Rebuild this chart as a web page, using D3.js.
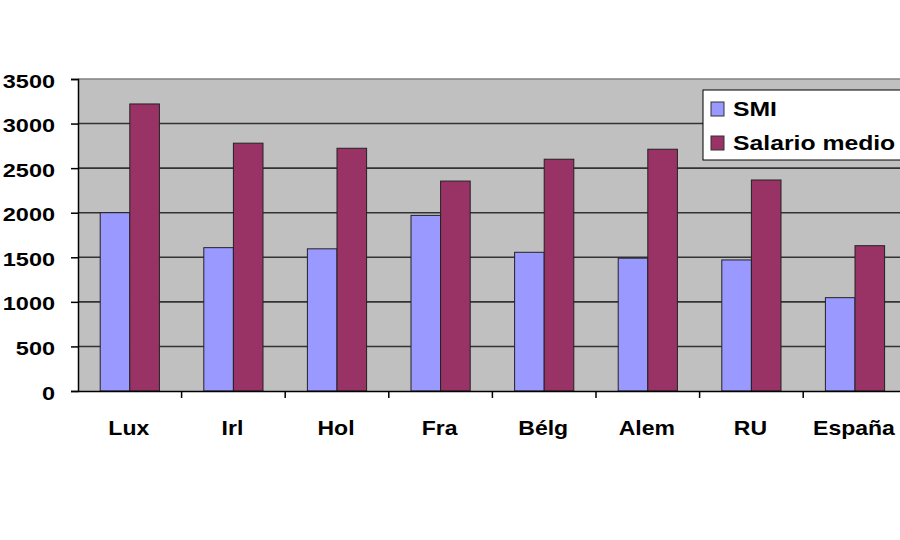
<!DOCTYPE html>
<html>
<head>
<meta charset="utf-8">
<script src="https://cdn.jsdelivr.net/npm/d3@7"></script>
<style>
  html, body { margin: 0; padding: 0; background: #ffffff; }
  svg { display: block; }
  text { font-family: "Liberation Sans", Arial, sans-serif; font-weight: bold; fill: #000; }
</style>
</head>
<body>
<svg id="chart" width="900" height="540"></svg>
<script>
const categories = ["Lux", "Irl", "Hol", "Fra", "Bélg", "Alem", "RU", "España"];
const seriesNames = ["SMI", "Salario medio"];
const smi = [2000, 1608, 1595, 1970, 1556, 1490, 1470, 1047];
const salarioMedio = [3220, 2780, 2723, 2355, 2600, 2712, 2367, 1630];
const yTicks = [0, 500, 1000, 1500, 2000, 2500, 3000, 3500];
const colors = ["#9999FF", "#993366"];

(function () {
const svg = d3.select("#chart");
const plotLeft = 78, plotTop = 79, plotBottom = 391;
const catW = 103.6;
const plotRight = plotLeft + categories.length * catW;

const x0 = d3.scaleBand().domain(categories).range([plotLeft, plotRight]).padding(0);
const x1 = d3.scaleBand().domain(seriesNames).range([0, x0.bandwidth()])
  .paddingInner(0).paddingOuter(0.75);
const y = d3.scaleLinear().domain([0, 3500]).range([plotBottom, plotTop]);

// plot area
svg.append("rect").attr("x", plotLeft).attr("y", plotTop)
  .attr("width", plotRight - plotLeft).attr("height", plotBottom - plotTop)
  .attr("fill", "#C0C0C0");

// gridlines
svg.append("g").selectAll("line").data(yTicks.filter(d => d > 0)).join("line")
  .attr("x1", plotLeft).attr("x2", plotRight)
  .attr("y1", d => y(d)).attr("y2", d => y(d))
  .attr("stroke", d => d === 3500 ? "#808080" : "#333")
  .attr("stroke-width", 1.6);

// bars
const rows = categories.map((c, i) => ({ cat: c, vals: [smi[i], salarioMedio[i]] }));
const groups = svg.append("g").selectAll("g").data(rows).join("g")
  .attr("transform", d => `translate(${x0(d.cat)},0)`);
groups.selectAll("rect").data(d => d.vals.map((v, j) => ({ s: seriesNames[j], v, j })))
  .join("rect")
  .attr("x", d => x1(d.s))
  .attr("width", x1.bandwidth())
  .attr("y", d => y(d.v))
  .attr("height", d => plotBottom - y(d.v))
  .attr("fill", d => colors[d.j])
  .attr("stroke", "#222")
  .attr("stroke-width", 1);

// y axis
const yAxis = d3.axisLeft(y).tickValues(yTicks).tickSize(7).tickPadding(0).tickFormat(d3.format("d"));
const gy = svg.append("g").attr("transform", `translate(${plotLeft},0)`).call(yAxis);
gy.select(".domain").attr("stroke", "#000").attr("stroke-width", 1.5);
gy.selectAll(".tick line").attr("stroke", "#000").attr("stroke-width", 1.5);
gy.selectAll(".tick text")
  .attr("x", null).attr("dy", null)
  .attr("font-size", 18.5)
  .attr("text-anchor", "end")
  .attr("transform", "translate(-23,8) scale(1.27,1)")
  .attr("font-family", "Liberation Sans, Arial, sans-serif")
  .attr("font-weight", "bold")
  .attr("fill", "#000");

// x axis
const xAxis = d3.axisBottom(x0).tickSize(0).tickPadding(0);
const gx = svg.append("g").attr("transform", `translate(0,${plotBottom})`).call(xAxis);
gx.select(".domain").attr("stroke", "#000").attr("stroke-width", 1.5);
gx.selectAll(".tick text")
  .attr("y", null).attr("dy", null)
  .attr("font-size", 20)
  .attr("text-anchor", "middle")
  .attr("transform", "translate(-1,44) scale(1.15,1)")
  .attr("font-family", "Liberation Sans, Arial, sans-serif")
  .attr("font-weight", "bold")
  .attr("fill", "#000");
// category boundary ticks
svg.append("g").selectAll("line").data(categories.slice(1)).join("line")
  .attr("x1", d => x0(d)).attr("x2", d => x0(d))
  .attr("y1", plotBottom).attr("y2", plotBottom + 7)
  .attr("stroke", "#000").attr("stroke-width", 1.5);

// legend
const lg = svg.append("g").attr("transform", "translate(703,90)");
lg.append("rect").attr("x", 0).attr("y", 0).attr("width", 230).attr("height", 70)
  .attr("fill", "#fff").attr("stroke", "#000").attr("stroke-width", 1);
seriesNames.forEach((name, i) => {
  const cy = 19 + i * 34;
  lg.append("rect").attr("x", 8).attr("y", cy - 7).attr("width", 13).attr("height", 14)
    .attr("fill", colors[i]).attr("stroke", "#333").attr("stroke-width", 1);
  lg.append("text").attr("transform", `translate(30,${cy + 7}) scale(1.27,1)`)
    .attr("font-size", 19.5).text(name);
});
})();
</script>
</body>
</html>
